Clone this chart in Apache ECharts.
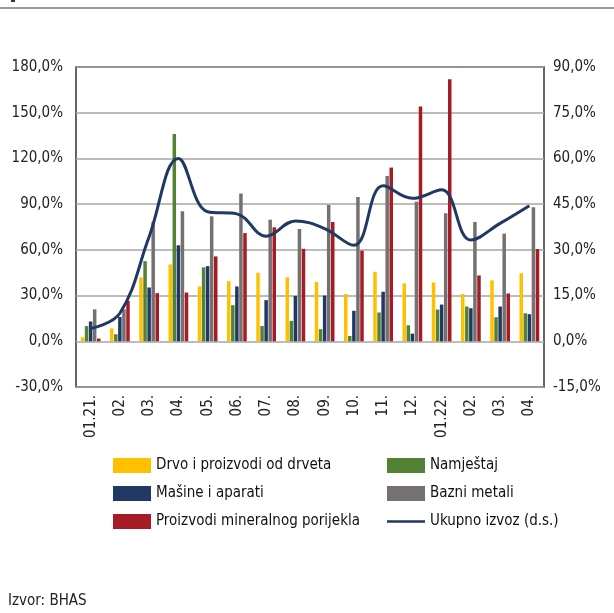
<!DOCTYPE html>
<html>
<head>
<meta charset="utf-8">
<script src="https://cdn.jsdelivr.net/npm/echarts@6/dist/echarts.min.js"></script>
<style>
  html, body { margin: 0; padding: 0; background: #fff; }
  #chart { width: 614px; height: 613px; }
</style>
</head>
<body>
<div id="chart"></div>
<script>
  // mjeseci
  var months = ['01.21.', '02.', '03.', '04.', '05.', '06.', '07.', '08.', '09.', '10.', '11.', '12.', '01.22.', '02.', '03.', '04.']

  // godišnje stope rasta izvoza, %
  var drvo = [2.6, 8.5, 42, 50.4, 36, 39.5, 45, 42, 39, 31, 45.6, 38, 38.6, 31, 40, 44.7]
  var namjestaj = [10, 4.6, 52.6, 136, 48.5, 23.7, 10, 13.4, 7.9, 3.5, 18.9, 10.5, 20.8, 22.8, 15.8, 18.4]
  var masine = [13, 16, 35.3, 63, 49.3, 36, 27, 29.8, 30, 20, 32.5, 5, 24.1, 21.7, 22.8, 17.8]
  var bazniMetali = [21, 21, 78.5, 85.3, 82, 97, 79.8, 73.7, 89.5, 94.7, 108.5, 91.6, 84, 78.3, 70.6, 88]
  var mineralni = [1.8, 26.5, 31.6, 32, 55.7, 71, 74.8, 60.7, 78.3, 59.4, 114, 154, 172, 43.2, 31.4, 60.5]
  // ukupno izvoz (desna skala)
  var ukupno = [4.2, 9.2, 34.3, 60, 42.5, 41.8, 34.5, 39.5, 37, 31.5, 51, 46.9, 49.7, 33.2, 38.7, 44.5]

  var fontFam = '"Liberation Sans Narrow", "DejaVu Sans Condensed", "Noto Sans", sans-serif'
  // tanka linija u legendi (tačke u uglovima drže okvir 38x15)
  var lineIcon = 'path://M0,0L0.01,0L0.01,0.01Z M0,6.3L38,6.3L38,8.7L0,8.7Z M37.99,15L38,15L38,14.99Z'

  function pct(v) {
    return v.toFixed(1).replace('.', ',') + '%'
  }

  function barSerie(name, color, data) {
    return {
      name: name,
      type: 'bar',
      data: data,
      barWidth: 3.5,
      barGap: '16%',
      itemStyle: {color: color},
      yAxisIndex: 0
    }
  }

  var legendText = {fontSize: 15, color: '#111', fontFamily: fontFam}

  var chart = echarts.init(document.getElementById('chart'))
  chart.setOption({
    animation: false,
    textStyle: {fontFamily: fontFam},
    grid: {
      left: 76, right: 70, top: 67, bottom: 226,
      show: true, borderColor: '#333', borderWidth: 1.5
    },
    graphic: [
      {type: 'rect', shape: {x: 0, y: 7, width: 614, height: 2}, style: {fill: '#9a9a9a'}},
      {type: 'rect', shape: {x: 11, y: 0, width: 4, height: 2}, style: {fill: '#1F3864'}},
      {type: 'text', left: 8, top: 594, style: {text: 'Izvor: BHAS', font: '15px ' + fontFam, fill: '#222'}}
    ],
    legend: [
      {
        orient: 'vertical', left: 108, top: 453, itemGap: 13,
        itemWidth: 38, itemHeight: 15, icon: 'rect',
        textStyle: legendText,
        data: ['Drvo i proizvodi od drveta', 'Mašine i aparati', 'Proizvodi mineralnog porijekla']
      },
      {
        orient: 'vertical', left: 382, top: 453, itemGap: 13,
        itemWidth: 38, itemHeight: 15, icon: 'rect',
        textStyle: legendText,
        data: ['Namještaj', 'Bazni metali', {name: 'Ukupno izvoz (d.s.)', icon: lineIcon}]
      }
    ],
    xAxis: {
      type: 'category',
      data: months,
      axisLine: {onZero: false, show: false},
      axisTick: {show: false},
      axisLabel: {rotate: 90, fontSize: 15, color: '#222', margin: 8, fontFamily: fontFam}
    },
    yAxis: [
      {
        type: 'value', min: -30, max: 180, interval: 30,
        axisLine: {show: false}, axisTick: {show: false},
        axisLabel: {formatter: pct, fontSize: 15, color: '#222', margin: 13, fontFamily: fontFam},
        splitLine: {lineStyle: {color: '#a6a6a6', width: 1.5}}
      },
      {
        type: 'value', min: -15, max: 90, interval: 15,
        axisLine: {show: false}, axisTick: {show: false},
        axisLabel: {formatter: pct, fontSize: 15, color: '#222', margin: 9, fontFamily: fontFam},
        splitLine: {show: false}
      }
    ],
    series: [
      barSerie('Drvo i proizvodi od drveta', '#FFC000', drvo),
      barSerie('Namještaj', '#548235', namjestaj),
      barSerie('Mašine i aparati', '#1F3864', masine),
      barSerie('Bazni metali', '#767171', bazniMetali),
      barSerie('Proizvodi mineralnog porijekla', '#A51C24', mineralni),
      {
        name: 'Ukupno izvoz (d.s.)',
        type: 'line',
        yAxisIndex: 1,
        data: ukupno,
        smooth: 0.4,
        symbol: 'none',
        lineStyle: {color: '#1F3864', width: 3},
        itemStyle: {color: '#1F3864'}
      }
    ]
  })
</script>
</body>
</html>
